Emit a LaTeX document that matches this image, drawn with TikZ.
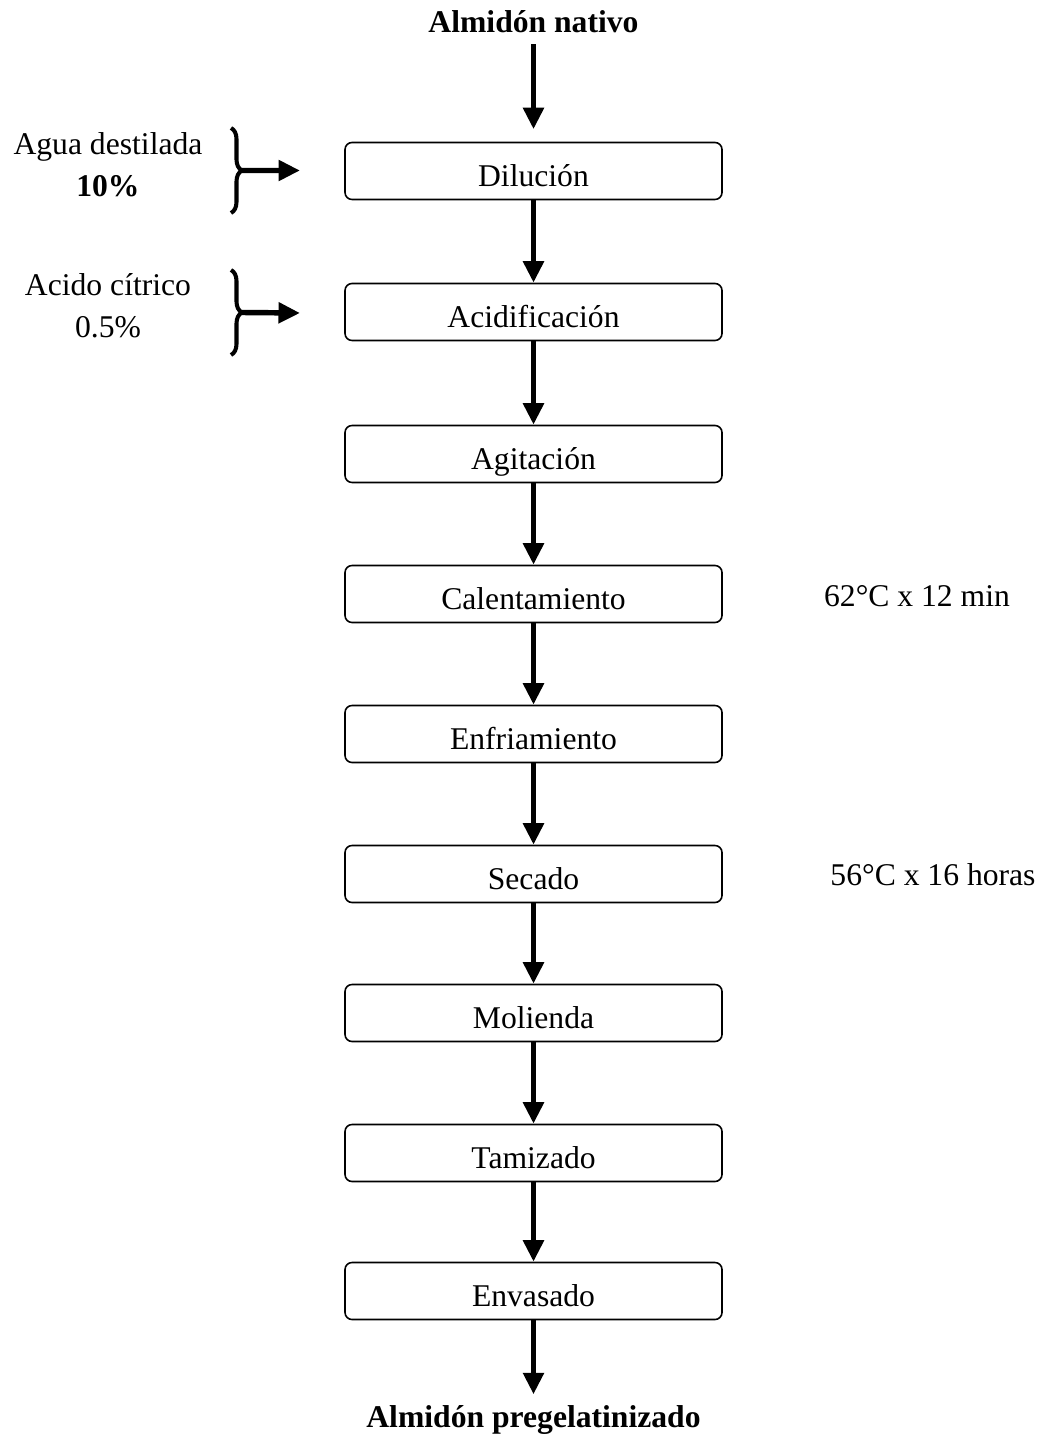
\documentclass[tikz,border=0pt]{standalone}
\usepackage{fontspec}
\setmainfont{Liberation Serif}
\usepackage{tikz}
\usetikzlibrary{arrows.meta,positioning,decorations.pathreplacing}

\begin{document}
\begin{tikzpicture}[
  font=\fontsize{18}{24}\selectfont,
  stage/.style={draw, line width=0.9pt, rounded corners=4pt, minimum width=7.54cm, minimum height=1.14cm, inner sep=2pt, text height=20pt, text depth=2.5pt, text centered},
  flow/.style={line width=3.1pt, -{Triangle[length=0.43cm, width=0.4cm]}},
  curly/.style={decorate, decoration={brace, amplitude=0.22cm}, line width=2.3pt}
]
\useasboundingbox (0,0) rectangle (20.96,-28.82);

\node[font=\fontsize{18}{24}\selectfont\bfseries] (nativo) at (10.67,-0.44) {Almidón nativo};
\node[stage] (dil) at (10.67,-3.42) {Dilución};
\node[stage] (aci) at (10.67,-6.24) {Acidificación};
\node[stage] (agi) at (10.67,-9.08) {Agitación};
\node[stage] (cal) at (10.67,-11.88) {Calentamiento};
\node[stage] (enf) at (10.67,-14.68) {Enfriamiento};
\node[stage] (sec) at (10.67,-17.48) {Secado};
\node[stage] (mol) at (10.67,-20.26) {Molienda};
\node[stage] (tam) at (10.67,-23.06) {Tamizado};
\node[stage] (env) at (10.67,-25.82) {Envasado};
\node[font=\fontsize{18}{24}\selectfont\bfseries] (pregel) at (10.67,-28.4) {Almidón pregelatinizado};

% insumos
\node[align=center] (agua) at (2.16,-3.3) {Agua destilada\\\textbf{10\%}};
\node[align=center] (acido) at (2.16,-6.12) {Acido cítrico\\0.5\%};
\draw[curly] (4.62,-2.56) -- (4.62,-4.26) coordinate[midway, xshift=0.22cm] (b1);
\draw[curly] (4.62,-5.4) -- (4.62,-7.1) coordinate[midway, xshift=0.22cm] (b2);
\coordinate (e1) at (6.0,-3.41);
\coordinate (e2) at (6.0,-6.26);
\draw[flow] (b1) -- (e1);
\draw[flow] (b2) -- (e2);

% condiciones
\node (tcal) at (18.34,-11.92) {62°C x 12 min};
\node (tsec) at (18.66,-17.5) {56°C x 16 horas};

\draw[flow, shorten <=0.1cm, shorten >=0.25cm] (nativo) -- (dil);
\draw[flow] (dil) -- (aci);
\draw[flow] (aci) -- (agi);
\draw[flow] (agi) -- (cal);
\draw[flow] (cal) -- (enf);
\draw[flow] (enf) -- (sec);
\draw[flow] (sec) -- (mol);
\draw[flow] (mol) -- (tam);
\draw[flow] (tam) -- (env);
\draw[flow, shorten >=0.1cm] (env) -- (pregel);
\end{tikzpicture}
\end{document}
